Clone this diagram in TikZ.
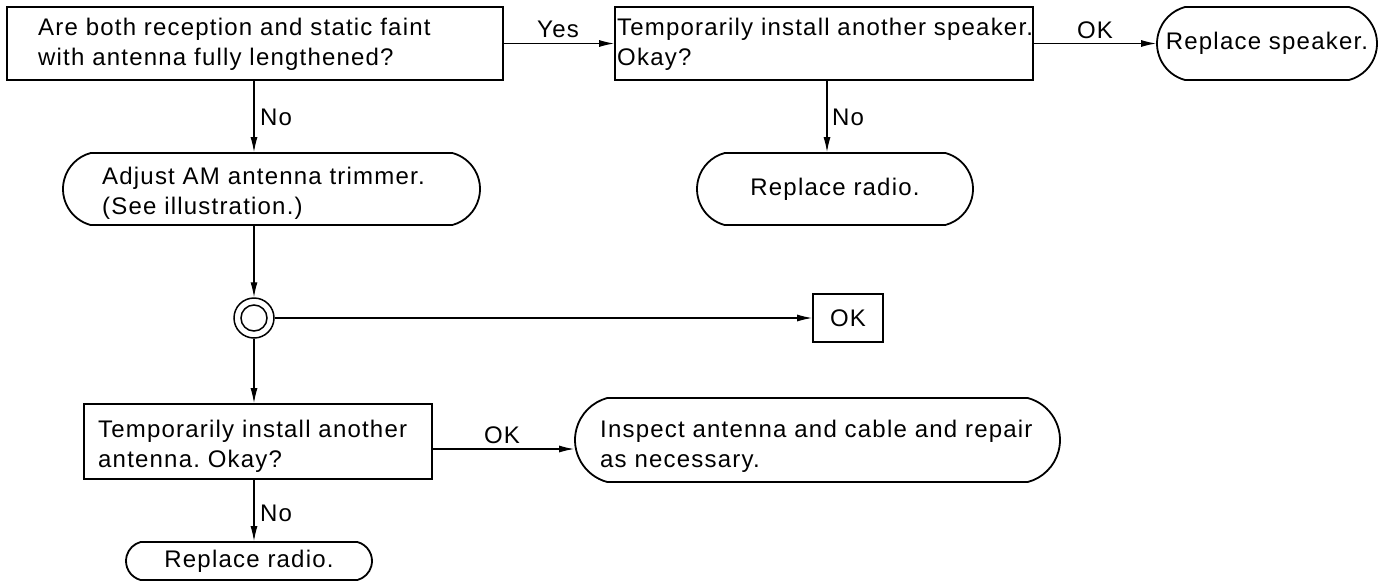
\documentclass[tikz,border=0pt]{standalone}
\usepackage{fontspec}
\setmainfont{Liberation Sans}[LetterSpace=5.0]
\usetikzlibrary{arrows.meta,shapes.misc}
\newcommand\tf{\fontsize{24}{30}\selectfont\frenchspacing}
\tikzset{
  frame/.style={draw, line width=1.8pt, rectangle, inner sep=0pt},
  pill/.style={draw, line width=1.8pt, rounded rectangle, rounded rectangle arc length=150, inner sep=0pt, font=\tf},
  ring/.style={draw, circle, line width=1.5pt, inner sep=0pt},
  txt/.style={anchor=west, align=left, inner sep=0pt, font=\tf},
  lbl/.style={inner sep=0pt, font=\tf},
  conn/.style={line width=1.1pt, -{Latex[length=15pt,width=7pt]}},
}
\begin{document}
\begin{tikzpicture}[x=1pt,y=-1pt]
\useasboundingbox (0,0) rectangle (1383,582);
\coordinate (colA) at (254,0);
\coordinate (colB) at (827,0);
\coordinate (rowC) at (0,449);
% row 1
\node[frame, minimum width=496, minimum height=73] (b1) at (255,43.5) {};
\node[txt] (b1t) at (38,44) {Are both reception and static faint\\with antenna fully lengthened?};
\node[frame, minimum width=418, minimum height=73] (b2) at (824,43.5) {};
\node[txt] (b2t) at (617,44) {Temporarily install another speaker.\\Okay?};
\node[pill, minimum width=220, minimum height=73] (p1) at (1267,43.5) {Replace speaker.};
\draw[conn] (b1) -- (b2);
\node[lbl] (yes) at (558,29) {Yes};
\draw[conn] (b2) -- (p1);
\node[lbl] (ok1) at (1095,30) {OK};
% row 2
\node[pill, minimum width=417, minimum height=72] (p2) at (271.5,189) {};
\node[txt] (p2t) at (102,193) {Adjust AM antenna trimmer.\\(See illustration.)};
\draw[conn] (b1.south -| colA) -- (p2.north -| colA);
\node[lbl, anchor=west] (no1) at (260,117) {No};
\node[pill, minimum width=276, minimum height=72] (p6) at (835,189) {Replace radio.};
\draw[conn] (b2.south -| colB) -- (p6.north -| colB);
\node[lbl, anchor=west] (no2) at (832,117) {No};
% circle row
\node[ring, minimum size=40] (c) at (254,318) {};
\node[ring, minimum size=26] (ci) at (254,318) {};
\draw[conn] (p2.south -| colA) -- (c.north);
\node[frame, minimum width=70, minimum height=48] (okb) at (848,318) {};
\node[lbl] (okbt) at (848,318) {OK};
\draw[conn] (c.east) -- (okb.west);
% row 3
\node[frame, minimum width=348, minimum height=75] (b3) at (258,441.5) {};
\node[txt] (b3t) at (98,446) {Temporarily install another\\antenna. Okay?};
\draw[conn] (c.south) -- (b3.north -| colA);
\node[pill, minimum width=485, minimum height=84] (p4) at (817.5,440) {};
\node[txt] (p4t) at (600,446) {Inspect antenna and cable and repair\\as necessary.};
\draw[conn] (b3.east |- rowC) -- (p4.west |- rowC);
\node[lbl] (ok2) at (502,435) {OK};
\node[pill, minimum width=246, minimum height=38] (p5) at (249,561) {Replace radio.};
\draw[conn] (b3.south -| colA) -- (p5.north -| colA);
\node[lbl, anchor=west] (no3) at (260,513) {No};
\end{tikzpicture}
\end{document}
